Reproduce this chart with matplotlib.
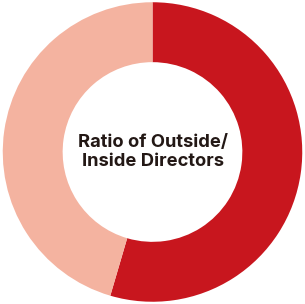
import matplotlib
matplotlib.use("Agg")
import matplotlib.pyplot as plt

labels = ["Outside Directors", "Inside Directors"]
values = [6, 5]
colors = ["#C8161E", "#F4B3A0"]
title = "Ratio of Outside/\nInside Directors"

fig = plt.figure(figsize=(3.05, 3.04), dpi=100)
ax = fig.add_axes([0.0, 0.0, 1.0, 1.0])
ax.pie(values, colors=colors, startangle=90, counterclock=False,
       radius=1.0, wedgeprops=dict(width=0.4, edgecolor="none"))
ax.set_aspect("equal")
ax.set_xlim(-1.015, 1.015)
ax.set_ylim(-1.015, 1.015)
ax.text(0, 0, title, ha="center", va="center", fontsize=13.2,
        fontweight="bold", color="#231815", family=["Inter", "DejaVu Sans"],
        linespacing=1.2)
fig.savefig("out.png", dpi=100)
